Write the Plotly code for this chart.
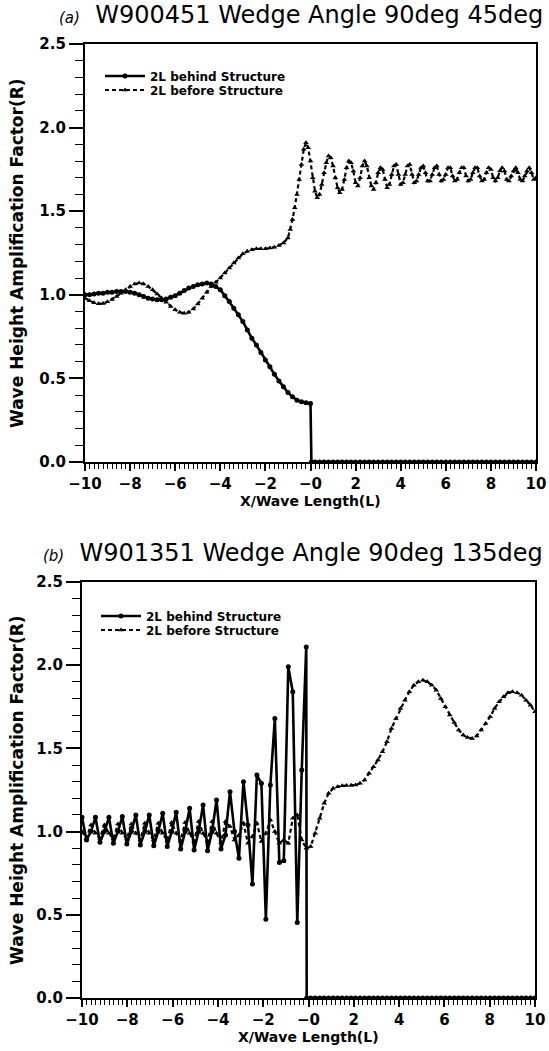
import plotly.graph_objects as go

# ---------------- data ----------------
# Panel (a): W900451, x step 0.2 on the left part
behind_a_left = [1.00, 1.00, 1.005, 1.01, 1.01, 1.015, 1.015, 1.02, 1.02, 1.02,
                 1.015, 1.01, 1.0, 0.99, 0.98, 0.975, 0.97, 0.97, 0.975, 0.985,
                 0.995, 1.01, 1.025, 1.04, 1.05, 1.06, 1.065, 1.07, 1.065, 1.05,
                 1.03, 0.995, 0.96, 0.92, 0.88, 0.84, 0.79, 0.74, 0.70, 0.655,
                 0.61, 0.57, 0.525, 0.485, 0.45, 0.415, 0.39, 0.37, 0.36, 0.355,
                 0.35]
behind_a_right = [0.0] * 51          # x = 0.04, 0.2 ... 10

before_a_1 = [0.98, 0.965, 0.952, 0.946, 0.948, 0.958, 0.972, 0.99, 1.01, 1.03,
              1.05, 1.065, 1.07, 1.065, 1.05, 1.03, 1.005, 0.98, 0.955, 0.93,
              0.91, 0.895, 0.89, 0.895, 0.915, 0.945, 0.98, 1.015, 1.05, 1.075,
              1.10, 1.13, 1.16, 1.19, 1.22, 1.245, 1.26, 1.27, 1.275, 1.275,
              1.275, 1.28, 1.285, 1.295, 1.31, 1.34]           # x = -10 .. -1.0 step 0.2
before_a_2 = [1.39, 1.45, 1.52, 1.60, 1.69, 1.78, 1.87, 1.91, 1.88,
              1.80, 1.70, 1.62, 1.58, 1.60, 1.66, 1.73, 1.79, 1.83, 1.82,
              1.77, 1.70, 1.64, 1.61, 1.63, 1.69, 1.76, 1.80, 1.79, 1.74,
              1.67, 1.65, 1.70, 1.77, 1.80, 1.77, 1.70, 1.65, 1.63, 1.67,
              1.73, 1.76, 1.75, 1.69, 1.64, 1.66, 1.72, 1.77, 1.78, 1.72,
              1.66, 1.67, 1.72, 1.77, 1.78, 1.72, 1.67, 1.68, 1.72, 1.76,
              1.77, 1.73, 1.68, 1.68, 1.72, 1.76, 1.77, 1.72, 1.68, 1.69,
              1.72, 1.76, 1.76, 1.71, 1.68, 1.69, 1.73, 1.76, 1.76, 1.71,
              1.68, 1.69, 1.73, 1.76, 1.76, 1.71, 1.68, 1.69, 1.73, 1.76,
              1.75, 1.70, 1.68, 1.70, 1.74, 1.76, 1.74, 1.69, 1.68, 1.71,
              1.74, 1.76, 1.73, 1.69, 1.68, 1.71, 1.74, 1.76, 1.73, 1.69,
              1.70]                                             # x = -0.9 .. 10 step 0.1

# Panel (b): W901351, sample spacing 0.198
behind_b_left = [1.086, 0.95, 1.0, 1.086, 0.936, 1.0, 1.086, 0.93, 1.0, 1.09,
                 0.925, 1.0, 1.10, 0.92, 1.0, 1.10, 0.915, 1.0, 1.11, 0.91,
                 1.0, 1.116, 0.896, 1.0, 1.14, 0.89, 1.0, 1.16, 0.885, 1.0,
                 1.19, 0.896, 0.98, 1.24, 1.0, 0.84, 1.30, 1.04, 0.685, 1.34,
                 1.29, 0.474, 1.28, 1.68, 0.815, 0.825, 1.99, 1.84, 0.454, 1.37,
                 2.11]
behind_b_right = [0.0] * 52          # x = -0.08, then 0.098 ... 10

before_b = [1.0, 0.96, 1.04, 0.99, 0.96, 1.04, 0.99, 0.955, 1.045, 0.99,
            0.955, 1.045, 0.99, 0.95, 1.05, 0.99, 0.95, 1.05, 0.99, 0.945,
            1.055, 0.99, 0.945, 1.055, 0.99, 0.94, 1.06, 0.99, 0.94, 1.06,
            0.99, 0.935, 1.06, 1.03, 0.95, 0.98, 1.05, 0.93, 0.97, 1.05,
            0.94, 0.99, 1.07, 1.0, 0.93, 0.95, 0.93, 1.08, 1.10, 0.95,
            0.90,
            0.91, 0.99, 1.08, 1.17, 1.23, 1.26, 1.27, 1.275, 1.277, 1.278,
            1.28, 1.29, 1.31, 1.35, 1.39, 1.43, 1.48, 1.54, 1.62, 1.68,
            1.74, 1.79, 1.84, 1.88, 1.90, 1.91, 1.90, 1.88, 1.85, 1.80,
            1.75, 1.70, 1.655, 1.61, 1.58, 1.565, 1.56, 1.575, 1.61, 1.65,
            1.69, 1.74, 1.78, 1.81, 1.835, 1.84, 1.835, 1.82, 1.79, 1.76,
            1.72]

x_tick_vals = [-10, -8, -6, -4, -2, 0, 2, 4, 6, 8, 10]
x_tick_text = ["\u221210", "\u22128", "\u22126", "\u22124", "\u22122", "\u22120",
               "2", "4", "6", "8", "10"]
y_tick_vals = [0.0, 0.5, 1.0, 1.5, 2.0, 2.5]
y_tick_text = ["0.0", "0.5", "1.0", "1.5", "2.0", "2.5"]

names = ["2L behind Structure", "2L before Structure"]

# sampling grids (x positions of the samples)
xa_left = [round(-10 + 0.2 * i, 3) for i in range(len(behind_a_left))]
xa_right = [0.04] + [round(0.2 * (i + 1), 3) for i in range(len(behind_a_right) - 1)]
xa_b1 = [round(-10 + 0.2 * i, 3) for i in range(len(before_a_1))]
xa_b2 = [round(-0.9 + 0.1 * i, 3) for i in range(len(before_a_2))]
xb_grid = [round(-10 + 0.198 * k, 3) for k in range(len(before_b))]
xb_left = xb_grid[:len(behind_b_left)]
xb_right = [-0.08] + xb_grid[len(behind_b_left):]

# ---------------- figure ----------------
W, H = 549, 1051
FONT = "DejaVu Sans"


def px_x(p):
    return p / W


def px_y(p):
    return 1 - p / H


behind_style = dict(mode="lines+markers", line=dict(color="black", width=2.6),
                    marker=dict(symbol="circle", size=5, color="black"))
before_style = dict(mode="lines+markers",
                    line=dict(color="black", width=2.2, dash="4px,3px"),
                    marker=dict(symbol="triangle-up", size=5, color="black"))

fig = go.Figure()
fig.add_trace(go.Scatter(x=xa_left + xa_right, y=behind_a_left + behind_a_right,
                         name=names[0], xaxis="x", yaxis="y", legend="legend",
                         **behind_style))
fig.add_trace(go.Scatter(x=xa_b1 + xa_b2, y=before_a_1 + before_a_2,
                         name=names[1], xaxis="x", yaxis="y", legend="legend2",
                         **before_style))
fig.add_trace(go.Scatter(x=xb_left + xb_right, y=behind_b_left + behind_b_right,
                         name=names[0], xaxis="x2", yaxis="y2", legend="legend3",
                         **behind_style))
fig.add_trace(go.Scatter(x=xb_grid, y=before_b,
                         name=names[1], xaxis="x2", yaxis="y2", legend="legend4",
                         **before_style))

tickfont = dict(family=FONT, size=15, color="black", weight="bold")


def xaxis(domain, anchor):
    return dict(domain=domain, anchor=anchor, range=[-10, 10], tickmode="array",
                tickvals=x_tick_vals, ticktext=x_tick_text, ticks="outside",
                ticklen=7, tickwidth=1.5, tickcolor="black",
                minor=dict(tick0=-10, dtick=0.2, ticks="outside", ticklen=5,
                           tickwidth=1.2, tickcolor="black"),
                showline=True, linewidth=2.2, linecolor="black", mirror=True,
                showgrid=False, zeroline=False, tickfont=tickfont,
                automargin=False, ticklabeloverflow="allow")


def yaxis(domain, anchor):
    return dict(domain=domain, anchor=anchor, range=[0, 2.5], tickmode="array",
                tickvals=y_tick_vals, ticktext=y_tick_text, ticks="outside",
                ticklen=14, tickwidth=1.5, tickcolor="black",
                minor=dict(tick0=0, dtick=0.1, ticks="outside", ticklen=8,
                           tickwidth=1.3, tickcolor="black"),
                showline=True, linewidth=2.2, linecolor="black", mirror=True,
                showgrid=False, zeroline=False, tickfont=tickfont,
                automargin=False, ticklabeloverflow="allow")


top = dict(x0=85, x1=536, y0=44, y1=462)
bot = dict(x0=82, x1=535, y0=582, y1=998)

legfont = dict(family=FONT, size=12, color="black", weight="bold")


def legend(xp, yp):
    return dict(x=px_x(xp), y=px_y(yp), xanchor="left", yanchor="middle",
                bgcolor="rgba(0,0,0,0)", borderwidth=0, font=legfont,
                itemwidth=40, tracegroupgap=0)


annotations = []
for title, tp, pan in [("(a)", "W900451 Wedge Angle 90deg 45deg", top),
                       ("(b)", "W901351 Wedge Angle 90deg 135deg", bot)]:
    annotations.append(dict(
        text="<span style='font-size:15px'><i>" + title + "</i></span>  " + tp,
        x=px_x(545), y=px_y(pan["y0"] - 29), xref="paper", yref="paper",
        xanchor="right", yanchor="middle", showarrow=False,
        font=dict(family=FONT, size=24, color="black")))
    annotations.append(dict(
        text="X/Wave Length(L)", x=px_x((pan["x0"] + pan["x1"]) / 2),
        y=px_y(pan["y1"] + 39), xref="paper", yref="paper",
        xanchor="center", yanchor="middle", showarrow=False,
        font=dict(family=FONT, size=14, color="black", weight="bold")))
    annotations.append(dict(
        text="Wave Height Amplification Factor(R)", x=px_x(17),
        y=px_y((pan["y0"] + pan["y1"]) / 2), xref="paper", yref="paper",
        xanchor="center", yanchor="middle", textangle=-90, showarrow=False,
        font=dict(family=FONT, size=17, color="black", weight="bold")))

fig.update_layout(
    width=W, height=H, margin=dict(l=0, r=0, t=0, b=0),
    paper_bgcolor="white", plot_bgcolor="white",
    xaxis=xaxis([px_x(top["x0"]), px_x(top["x1"])], "y"),
    yaxis=yaxis([px_y(top["y1"]), px_y(top["y0"])], "x"),
    xaxis2=xaxis([px_x(bot["x0"]), px_x(bot["x1"])], "y2"),
    yaxis2=yaxis([px_y(bot["y1"]), px_y(bot["y0"])], "x2"),
    legend=legend(100, 76),
    legend2=legend(100, 90),
    legend3=legend(96, 616),
    legend4=legend(96, 630),
    annotations=annotations,
    showlegend=True,
)

fig.write_html("out.html", config={"displayModeBar": False},
               post_script="document.body.style.margin='0';document.body.style.overflow='hidden';")
